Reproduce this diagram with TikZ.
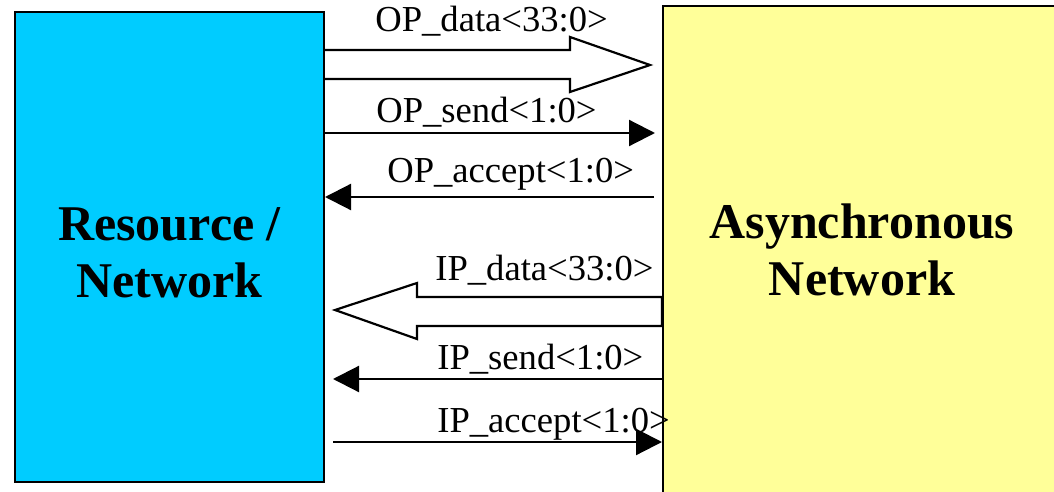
\documentclass[tikz,border=0pt]{standalone}
\usepackage{fontspec}
\setmainfont{Liberation Serif}
\usetikzlibrary{arrows.meta}
\definecolor{rescyan}{RGB}{0,204,255}
\definecolor{asyyellow}{RGB}{255,255,153}

\begin{document}
\begin{tikzpicture}[x=0.5pt, y=-0.5pt,
    box/.style={draw, line width=1pt, inner sep=0pt},
    title/.style={align=center, inner sep=0pt, font=\fontsize{25}{28.5}\selectfont\bfseries},
    sig/.style={line width=1.1pt, -{Triangle[length=13pt,width=13pt]}},
    bus/.style={draw, line width=1.1pt, line join=miter},
    lbl/.style={anchor=base west, inner sep=0pt, font=\fontsize{18.3}{22}\selectfont}]
    \useasboundingbox (0,0) rectangle (1054,492);
    \clip (0,0) rectangle (1054,492);

    % the two blocks
    \node[box, fill=rescyan, minimum width=154.5pt, minimum height=235pt] (res) at (169.5,247) {};
    \node[box, fill=asyyellow, minimum width=199pt, minimum height=248pt] (asy) at (862,254) {};
    \node[title, yshift=-3pt] (restext) at (res.center) {Resource /\\Network};
    \node[title, yshift=2pt] (asytext) at (asy.center) {Asynchronous\\Network};

    % output side
    \draw[bus] (res.east |- 0,50) -- (570,50) -- (570,37) -- (650,65) -- (570,92) -- (570,79) -- (res.east |- 0,79);
    \draw[sig, shorten >=3.5pt] (res.east |- 0,133) -- (asy.west |- 0,133);
    \draw[sig, shorten <=4pt] (asy.west |- 0,197) -- (res.east |- 0,197);

    % input side
    \draw[bus] (asy.west |- 0,297) -- (417,297) -- (417,283) -- (335,310) -- (417,339) -- (417,326) -- (asy.west |- 0,326) -- cycle;
    \draw[sig, shorten >=4pt] (asy.west |- 0,379) -- (res.east |- 0,379);
    \draw[sig, shorten <=4pt] (res.east |- 0,442) -- (asy.west |- 0,442);

    \node[lbl] (opdata) at (375,32) {OP\_data<33:0>};
    \node[lbl] (opsend) at (376,122) {OP\_send<1:0>};
    \node[lbl] (opaccept) at (387,182) {OP\_accept<1:0>};
    \node[lbl] (ipdata) at (435,280) {IP\_data<33:0>};
    \node[lbl] (ipsend) at (437,369) {IP\_send<1:0>};
    \node[lbl] (ipaccept) at (437,432) {IP\_accept<1:0>};
\end{tikzpicture}
\end{document}
